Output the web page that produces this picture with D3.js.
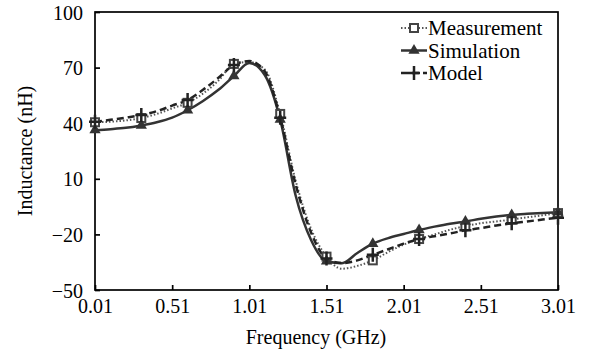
<!DOCTYPE html>
<html><head><meta charset="utf-8">
<script src="https://cdn.jsdelivr.net/npm/d3@7"></script>
<style>body{margin:0;background:#fff}svg{display:block}</style>
</head><body>
<svg id="c" width="590" height="351"></svg>
<script>
const freq = [0.01,0.11,0.21,0.31,0.41,0.51,0.61,0.71,0.81,0.91,1.01,1.11,1.21,1.31,1.41,1.51,1.61,1.71,1.81,1.91,2.01,2.11,2.21,2.31,2.41,2.51,2.61,2.71,2.81,2.91,3.01];
const measurement = [40.5,40.8,41.5,42.8,45,48,51,56,63,72,73,69,45,9,-17,-32,-38.5,-37,-34,-29.5,-25.5,-22.5,-20,-17.5,-15.5,-14,-13,-12,-10.8,-9.7,-8.5];
const simulation = [36.3,36.8,37.5,38.8,40.5,43,47,52,58,65.5,72.5,66,42,1,-23,-34.5,-35.5,-30,-25,-22,-19.8,-17.6,-15.8,-14.2,-13,-11.6,-10.4,-9.5,-8.9,-8.4,-8];
const model = [40.8,41.8,43,44.4,46.5,49.5,52.5,58,64.5,71.4,73.5,68,43,7,-19,-33,-35.5,-34,-31,-28,-25,-22.5,-21,-19.5,-17.8,-16.6,-15.2,-14,-13,-12,-11];
const markerIdx = [0,3,6,9,12,15,18,21,24,27,30];
const xTicks = [0.01,0.51,1.01,1.51,2.01,2.51,3.01];
const yTicks = [-50,-20,10,40,70,100];
const seriesNames = ["Measurement","Simulation","Model"];

const FONT = "'Liberation Serif','Times New Roman',Tinos,'DejaVu Serif',serif";
const svg = d3.select("#c");
const L=95,R=558,T=12,B=290;
const x = d3.scaleLinear().domain([0.01,3.01]).range([L,R]);
const y = d3.scaleLinear().domain([-50,100]).range([B,T]);

svg.append("rect").attr("x",L).attr("y",T).attr("width",R-L).attr("height",B-T).attr("fill","none").attr("stroke","#000").attr("stroke-width",1.7);

const xa = svg.append("g").attr("transform",`translate(0,${B})`).call(d3.axisBottom(x).tickValues(xTicks).tickFormat(d3.format(".2f")).tickSizeInner(-5).tickSizeOuter(0).tickPadding(9));
const ya = svg.append("g").attr("transform",`translate(${L},0)`).call(d3.axisLeft(y).tickValues(yTicks).tickSizeInner(-5).tickSizeOuter(0).tickPadding(12));
[xa,ya].forEach(a=>{a.attr("font-family",FONT);a.select(".domain").remove();a.selectAll("line").attr("stroke","#000").attr("stroke-width",1.7);a.selectAll("text").attr("font-size",20).attr("fill","#000").attr("font-family",FONT);});
ya.selectAll("text").attr("dy","0.35em");

svg.append("text").attr("x",316).attr("y",344).attr("text-anchor","middle").attr("font-size",20).attr("font-family",FONT).text("Frequency (GHz)");
svg.append("text").attr("transform",`translate(32,${(T+B)/2}) rotate(-90)`).attr("text-anchor","middle").attr("font-size",20).attr("font-family",FONT).text("Inductance (nH)");

const line = d3.line().x((d,i)=>x(freq[i])).y(d=>y(d)).curve(d3.curveMonotoneX);
const styles = {
  Measurement:{data:measurement,color:"#555",w:2,dash:"1.5,2"},
  Simulation:{data:simulation,color:"#333",w:2.5,dash:null},
  Model:{data:model,color:"#222",w:2.5,dash:"7,4"}
};
const plot = svg.append("g");
seriesNames.forEach(n=>{
  const s=styles[n];
  plot.append("path").attr("d",line(s.data)).attr("fill","none").attr("stroke",s.color).attr("stroke-width",s.w).attr("stroke-dasharray",s.dash);
});
function marker(g,n,cx,cy){
  if(n==="Measurement") g.append("rect").attr("x",cx-4).attr("y",cy-4).attr("width",8).attr("height",8).attr("fill","#fff").attr("stroke","#444").attr("stroke-width",2);
  else if(n==="Simulation") g.append("path").attr("d",d3.symbol(d3.symbolTriangle,55)()).attr("transform",`translate(${cx},${cy})`).attr("fill","#333");
  else g.append("path").attr("d",`M${cx-6},${cy}H${cx+6}M${cx},${cy-7}V${cy+7}`).attr("stroke","#222").attr("stroke-width",2.5);
}
seriesNames.forEach(n=>{
  const s=styles[n];
  markerIdx.forEach(i=>marker(plot,n,x(freq[i]),y(s.data[i])));
});

const lg = svg.append("g");
seriesNames.forEach((n,i)=>{
  const s=styles[n], ly=28+i*22.5;
  lg.append("line").attr("x1",401).attr("x2",427).attr("y1",ly).attr("y2",ly).attr("stroke",s.color).attr("stroke-width",s.w).attr("stroke-dasharray",s.dash);
  marker(lg,n,414,ly);
  lg.append("text").attr("x",428).attr("y",ly+7).attr("font-size",21).attr("font-family",FONT).text(n);
});
</script>
</body></html>
